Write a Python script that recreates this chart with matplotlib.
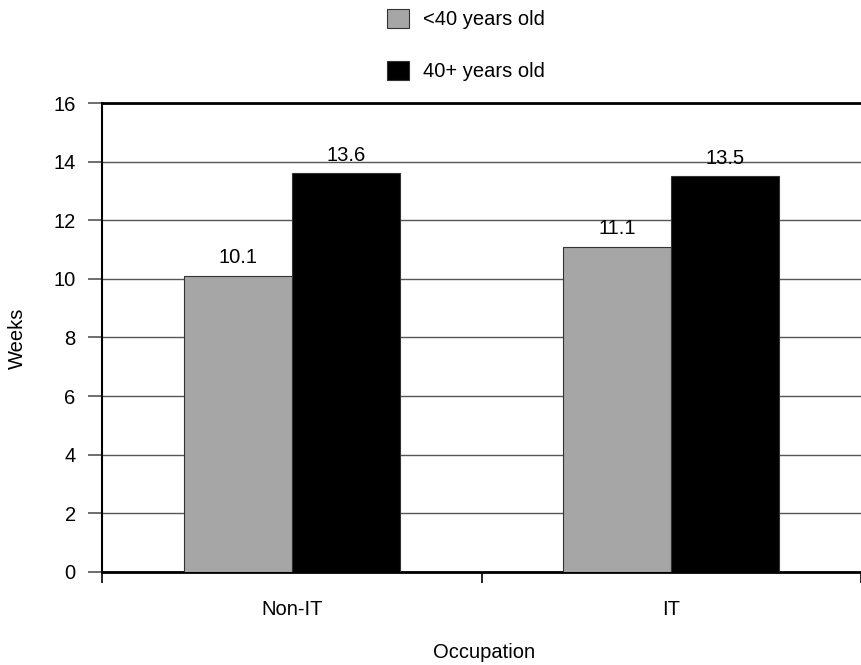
import matplotlib
matplotlib.use("Agg")
import matplotlib.pyplot as plt
import numpy as np

plt.rcParams['font.family'] = ['Liberation Sans', 'DejaVu Sans']

# data
occupations = ['Non-IT', 'IT']
under_40 = [10.1, 11.1]
over_40 = [13.6, 13.5]
series_labels = ['<40 years old', '40+ years old']
y_ticks = [0, 2, 4, 6, 8, 10, 12, 14, 16]

fs = 14.5

fig = plt.figure(figsize=(8.61, 6.65), dpi=100)
ax = fig.add_axes([0.1185, 0.14, 0.8815, 0.705])

x = np.arange(len(occupations))
w = 0.285
b1 = ax.bar(x - w / 2, under_40, w, color='#a6a6a6', edgecolor='#333333', linewidth=0.8,
            label=series_labels[0], zorder=3)
b2 = ax.bar(x + w / 2, over_40, w, color='#000000', edgecolor='#333333', linewidth=0.8,
            label=series_labels[1], zorder=3)

# value labels above bars
for bars, vals in ((b1, under_40), (b2, over_40)):
    for r, v in zip(bars, vals):
        ax.text(r.get_x() + r.get_width() / 2, v + 0.3, f'{v:.1f}',
                ha='center', va='bottom', fontsize=fs)

ax.set_xlim(-0.5, 1.5)
ax.set_ylim(0, 16)
ax.set_yticks(y_ticks)
ax.set_xticks([-0.5, 0.5, 1.5])
ax.set_xticklabels([])
ax.set_xticks(x, minor=True)
ax.set_xticklabels(occupations, minor=True, fontsize=fs)
ax.tick_params(axis='x', which='minor', length=0, pad=20)
ax.tick_params(axis='x', which='major', direction='out', length=8, width=1.2)
ax.tick_params(axis='y', labelsize=fs, length=10, width=1.2, color='#555555', pad=9)

ax.grid(axis='y', color='#555555', linewidth=1, zorder=0)
ax.spines['right'].set_visible(False)
ax.spines['top'].set_linewidth(2)
ax.spines['left'].set_linewidth(1.5)
ax.spines['bottom'].set_linewidth(2)

fig.text(17 / 861, 1 - 338 / 665, 'Weeks', rotation=90, ha='center', va='center', fontsize=fs)
fig.text(484 / 861, 1 - 652 / 665, 'Occupation', ha='center', va='center', fontsize=fs)

fig.legend(handles=[b1, b2], labels=series_labels, loc='upper left',
           bbox_to_anchor=(0.428, 1.014), frameon=False, fontsize=fs,
           handlelength=1.12, handleheight=1.12, handletextpad=0.7, labelspacing=1.55)

fig.savefig('out.png', dpi=100)
